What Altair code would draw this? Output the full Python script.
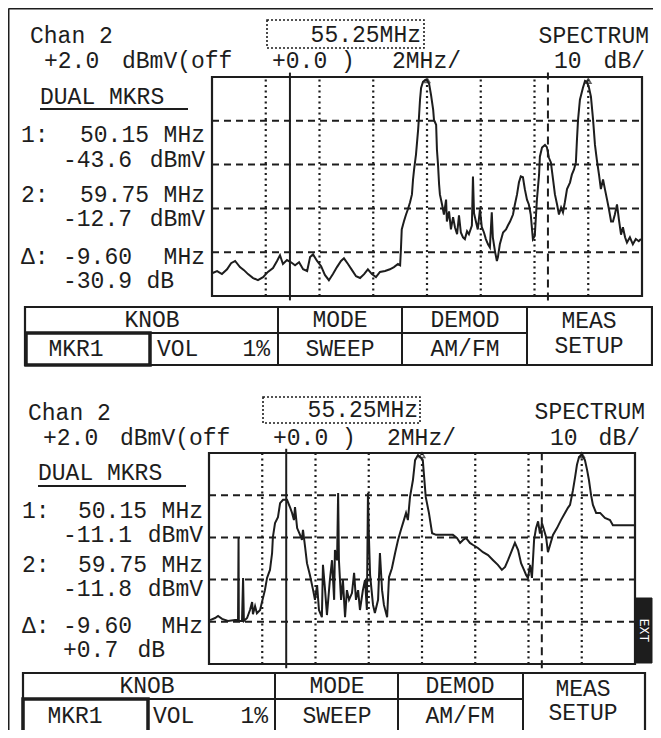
import altair as alt
import pandas as pd

# ---------------- data read from the two analyser screens ----------------
# (frequency MHz, level dBmV)
top_trace = [
    (47.25, -42.8), (47.44, -42.3), (47.62, -43.0), (47.81, -41.9), (47.96, -40.5), (48.11, -40.0),
    (48.29, -41.4), (48.44, -42.1), (48.59, -43.0), (48.78, -43.9), (48.96, -44.4), (49.15, -43.7),
    (49.33, -42.5), (49.52, -41.6), (49.67, -40.0), (49.78, -38.7), (49.89, -40.7), (50.04, -39.8),
    (50.19, -40.3), (50.34, -41.0), (50.49, -40.3), (50.64, -41.9), (50.79, -42.3), (50.90, -39.1),
    (51.01, -38.5), (51.16, -40.0), (51.31, -41.2), (51.45, -43.2), (51.60, -44.4), (51.75, -43.0),
    (51.90, -41.4), (52.05, -40.0), (52.16, -39.4), (52.31, -40.7), (52.46, -42.1), (52.61, -43.5),
    (52.76, -43.9), (52.91, -43.0), (53.05, -41.9), (53.20, -43.0), (53.35, -43.7), (53.50, -42.5),
    (53.69, -42.3), (53.87, -41.9), (54.02, -41.4), (54.17, -40.7), (54.25, -41.0), (54.28, -37.3),
    (54.31, -32.8), (54.39, -31.0), (54.47, -29.4), (54.54, -28.2), (54.62, -26.6), (54.69, -24.8),
    (54.73, -21.4), (54.77, -19.1), (54.84, -15.7), (54.92, -10.0), (54.95, -7.3), (54.99, -3.2),
    (55.03, -0.5), (55.10, 0.9), (55.18, 1.3), (55.25, 1.3), (55.33, 0.4), (55.40, -2.1),
    (55.48, -5.5), (55.51, -7.8), (55.59, -8.9), (55.62, -14.6), (55.66, -18.0), (55.70, -22.5),
    (55.73, -24.8), (55.81, -27.1), (55.88, -29.4), (55.96, -26.0), (55.99, -31.0), (56.07, -28.7),
    (56.14, -32.8), (56.22, -30.0), (56.29, -32.3), (56.37, -33.9), (56.44, -29.6), (56.51, -33.5),
    (56.59, -34.6), (56.66, -35.0), (56.74, -33.2), (56.81, -33.9), (56.92, -31.9), (56.96, -20.7),
    (57.00, -29.1), (57.07, -31.0), (57.14, -32.8), (57.22, -28.2), (57.29, -32.3), (57.37, -33.5),
    (57.44, -35.0), (57.52, -36.2), (57.59, -36.9), (57.66, -28.9), (57.70, -34.6), (57.78, -37.8),
    (57.85, -40.0), (57.89, -39.1), (57.96, -36.2), (58.08, -33.5), (58.19, -32.8), (58.26, -31.9),
    (58.34, -31.0), (58.45, -29.4), (58.52, -27.1), (58.60, -24.8), (58.67, -22.1), (58.74, -20.7),
    (58.82, -20.9), (58.89, -23.6), (58.97, -26.0), (59.04, -27.1), (59.11, -29.4), (59.19, -35.0),
    (59.26, -34.3), (59.34, -26.0), (59.42, -20.3), (59.45, -16.2), (59.53, -14.1), (59.64, -13.5),
    (59.71, -14.0), (59.79, -16.5), (59.86, -17.5), (59.94, -21.4), (60.01, -24.8), (60.09, -27.1),
    (60.16, -29.4), (60.24, -27.8), (60.31, -28.9), (60.38, -26.6), (60.46, -23.6), (60.57, -22.1),
    (60.64, -20.3), (60.72, -19.1), (60.79, -17.5), (60.83, -12.3), (60.87, -7.8), (60.94, -3.2),
    (61.05, -0.5), (61.13, 1.1), (61.20, 0.9), (61.28, -0.5), (61.35, -2.5), (61.43, -7.8),
    (61.50, -13.5), (61.57, -16.9), (61.65, -20.3), (61.72, -23.6), (61.80, -21.4), (61.87, -23.6),
    (61.95, -26.0), (62.02, -28.2), (62.10, -31.0), (62.17, -31.0), (62.24, -29.4), (62.32, -27.1),
    (62.39, -30.5), (62.47, -34.0), (62.54, -32.3), (62.62, -34.6), (62.69, -35.8), (62.80, -34.6),
    (62.91, -36.2), (63.02, -35.0), (63.13, -35.5), (63.21, -35.0),
]

bottom_trace = [
    (47.29, -37.6), (47.48, -37.1), (47.59, -36.6), (47.74, -37.3), (47.96, -37.8), (48.23, -37.6),
    (48.34, -37.6), (48.36, -17.9), (48.37, -37.8), (48.49, -37.8), (48.53, -27.6), (48.56, -37.8),
    (48.68, -37.1), (48.79, -35.2), (48.87, -33.3), (48.90, -36.2), (48.98, -34.3), (49.05, -36.0),
    (49.17, -35.2), (49.24, -33.3), (49.35, -30.5), (49.43, -27.6), (49.54, -25.7), (49.62, -21.7),
    (49.65, -17.9), (49.73, -14.6), (49.84, -13.2), (49.92, -9.9), (50.03, -9.1), (50.18, -9.1),
    (50.29, -10.8), (50.37, -12.2), (50.44, -13.9), (50.48, -10.8), (50.56, -15.8), (50.67, -17.4),
    (50.74, -18.6), (50.78, -16.2), (50.86, -20.3), (50.93, -24.1), (51.04, -26.9), (51.16, -30.5),
    (51.23, -32.8), (51.31, -29.3), (51.38, -35.2), (51.49, -36.9), (51.53, -24.5), (51.61, -30.5),
    (51.68, -36.4), (51.79, -28.1), (51.87, -23.4), (51.95, -32.8), (51.98, -21.0), (52.06, -23.4),
    (52.10, -7.5), (52.13, -23.4), (52.21, -32.8), (52.28, -28.1), (52.36, -36.9), (52.43, -30.5),
    (52.51, -32.8), (52.62, -31.2), (52.70, -26.4), (52.77, -32.8), (52.85, -30.5), (52.92, -35.2),
    (53.03, -30.5), (53.11, -28.1), (53.18, -35.2), (53.22, -7.5), (53.26, -18.6), (53.30, -26.9),
    (53.41, -34.0), (53.48, -35.9), (53.60, -32.8), (53.67, -21.7), (53.75, -30.5), (53.82, -34.0),
    (53.94, -36.9), (54.01, -27.4), (54.12, -25.3), (54.24, -21.7), (54.35, -18.6), (54.46, -16.2),
    (54.57, -13.9), (54.65, -12.2), (54.72, -13.9), (54.80, -8.4), (54.91, -4.4), (54.99, 0.3),
    (55.10, 1.5), (55.22, 0.8), (55.28, 0.3), (55.39, -8.4), (55.51, -12.2), (55.63, -17.0),
    (55.78, -17.4), (56.11, -17.4), (56.41, -17.4), (56.56, -18.1), (56.68, -19.3), (56.79, -18.6),
    (56.90, -18.1), (57.05, -19.3), (57.17, -19.8), (57.35, -20.5), (57.54, -21.5), (57.73, -22.2),
    (57.92, -23.4), (58.10, -24.5), (58.25, -25.7), (58.37, -25.0), (58.48, -23.4), (58.63, -21.0),
    (58.74, -19.3), (58.86, -21.0), (58.97, -24.1), (59.08, -25.7), (59.16, -26.9), (59.23, -27.6),
    (59.31, -24.5), (59.38, -27.6), (59.46, -18.6), (59.53, -15.9), (59.61, -14.2), (59.68, -17.1),
    (59.76, -14.7), (59.83, -16.2), (59.91, -17.9), (59.98, -21.5), (60.06, -19.8), (60.17, -17.4),
    (60.32, -15.8), (60.47, -13.9), (60.62, -12.2), (60.73, -11.0), (60.81, -10.3), (60.92, -6.8),
    (61.00, -3.7), (61.07, -0.8), (61.15, 1.1), (61.26, 1.5), (61.37, 0.3), (61.45, -2.0),
    (61.52, -4.4), (61.60, -8.0), (61.67, -10.3), (61.79, -12.2), (61.94, -12.2), (62.12, -13.4),
    (62.31, -13.9), (62.42, -15.1), (62.69, -15.1), (63.25, -15.1),
]

span_mhz = [47.25, 63.25]          # centre 55.25 MHz, 2 MHz/div, 8 div
level_dbmv = [-48.0, 2.0]          # ref +2.0 dBmV, 10 dB/div, 5 div
grid_mhz = [49.25, 51.25, 53.25, 55.25, 57.25, 59.25, 61.25]
grid_dbmv = [-8, -18, -28, -38]
marker_mhz = [50.15, 59.75]
peak_mhz = [55.25, 61.25]
top_peak_dbmv = [1.3, 1.1]
bottom_peak_dbmv = [1.5, 1.5]

# screen texts
channel_label = "Chan 2"
centre_label = "55.25MHz"
mode_label = "SPECTRUM"
status_words = ["+2.0", "dBmV(off", "+0.0 )", "2MHz/", "10", "dB/"]
markers_title = "DUAL MKRS"
marker_tags = ["1:", "2:", "Δ:"]
top_values = ["50.15", "-43.6", "59.75", "-12.7", "-9.60", "-30.9"]
bottom_values = ["50.15", "-11.1", "59.75", "-11.8", "-9.60", "+0.7"]
value_units = ["MHz", "dBmV", "MHz", "dBmV", "MHz", "dB"]
key_heads = ["KNOB", "MODE", "DEMOD"]
key_vals = ["MKR1", "SWEEP", "AM/FM"]
vol_label = ["VOL", "1%"]
meas_label = ["MEAS", "SETUP"]

# ---------------- layout (page pixels) ----------------
OFF = 8
INK = "#1d1d1d"
FONT = "Liberation Mono"
FS = 23

LAYOUT_TOP = dict(
    frame=(212, 642, 77, 296),
    chan=(30, 36), centre=(421, 35), cbox=(267, 424, 20, 48), mode=(649, 36),
    status_y=61, status_x=[44, 122, 272, 392, 554], status_right=645,
    title=(40, 97), uline=(40, 188, 109),
    tag_x=21, val_x=[80, 63, 80, 63, 63, 63], unit_right=[205, 205, 205, 205, 205, 174],
    rows_y=[135, 160, 195, 219, 257, 281],
    table=(25, 652, 307, 365, 333), dividers=[278, 402, 527], mkr_box=(26, 150),
    head_y=320, val_y=349, head_cx=[152, 340, 465], val_cx=[76, 340, 465],
    vol_x=(157, 270), meas_cx=589, meas_y=(321, 346), ext=None,
)
LAYOUT_BOTTOM = dict(
    frame=(209, 635, 453, 664),
    chan=(28, 413), centre=(418, 410), cbox=(263, 420, 397, 423), mode=(645, 412),
    status_y=438, status_x=[43, 120, 273, 387, 550], status_right=640,
    title=(38, 473), uline=(38, 186, 486),
    tag_x=22, val_x=[78, 63, 78, 63, 63, 63], unit_right=[203, 203, 203, 203, 203, 165],
    rows_y=[511, 535, 565, 589, 626, 650],
    table=(23, 645, 673, 733, 699), dividers=[275, 398, 523], mkr_box=(23, 148),
    head_y=686, val_y=716, head_cx=[147, 337, 460], val_cx=[75, 337, 460],
    vol_x=(153, 268), meas_cx=583, meas_y=(689, 713), ext=(636, 652, 598, 663),
)


def px(v):
    return v - OFF


def text_layer(rows, align, size=FS, color=INK, angle=0):
    df = pd.DataFrame(rows, columns=["t", "x", "y"])
    df["x"] = df["x"].map(px)
    df["y"] = df["y"].map(px)
    return alt.Chart(df).mark_text(
        align=align, baseline="middle", font=FONT, fontSize=size, color=color, angle=angle
    ).encode(
        x=alt.X("x:Q", scale=None, axis=None),
        y=alt.Y("y:Q", scale=None, axis=None),
        text="t:N",
    )


def seg_layer(rows, width=2.0, dash=None):
    df = pd.DataFrame(rows, columns=["x", "y", "x2", "y2"]).map(px)
    kw = dict(color=INK, strokeWidth=width)
    if dash:
        kw["strokeDash"] = dash
    return alt.Chart(df).mark_rule(**kw).encode(
        x=alt.X("x:Q", scale=None, axis=None), y=alt.Y("y:Q", scale=None, axis=None),
        x2="x2:Q", y2="y2:Q",
    )


def rect_layer(rows, width=2.0, dash=None, fill="transparent"):
    df = pd.DataFrame(rows, columns=["x", "x2", "y", "y2"]).map(px)
    kw = dict(stroke=INK, strokeWidth=width, fill=fill)
    if dash:
        kw["strokeDash"] = dash
    return alt.Chart(df).mark_rect(**kw).encode(
        x=alt.X("x:Q", scale=None, axis=None), x2="x2:Q",
        y=alt.Y("y:Q", scale=None, axis=None), y2="y2:Q",
    )


def panel(L, trace, peak_levels, values):
    x0, x1, y0, y1 = L["frame"]
    xs = alt.Scale(domain=span_mhz, range=[px(x0), px(x1)], nice=False, zero=False)
    ys = alt.Scale(domain=level_dbmv, range=[px(y1), px(y0)], nice=False, zero=False)

    def X(f):
        return alt.X(f"{f}:Q", scale=xs, axis=None)

    def Y(f):
        return alt.Y(f"{f}:Q", scale=ys, axis=None)

    layers = []
    gv = pd.DataFrame({"f": grid_mhz, "lo": level_dbmv[0], "hi": level_dbmv[1]})
    layers.append(alt.Chart(gv).mark_rule(color=INK, strokeWidth=2.2, strokeDash=[2, 3.5]).encode(
        x=X("f"), y=Y("lo"), y2="hi"))
    gh = pd.DataFrame({"l": grid_dbmv, "f0": span_mhz[0], "f1": span_mhz[1]})
    layers.append(alt.Chart(gh).mark_rule(color=INK, strokeWidth=2.0, strokeDash=[7, 5]).encode(
        y=Y("l"), x=X("f0"), x2="f1"))
    m1 = pd.DataFrame({"f": [marker_mhz[0]], "lo": [level_dbmv[0] - 1], "hi": [level_dbmv[1] + 1]})
    layers.append(alt.Chart(m1).mark_rule(color=INK, strokeWidth=2).encode(x=X("f"), y=Y("lo"), y2="hi"))
    m2 = pd.DataFrame({"f": [marker_mhz[1]], "lo": [level_dbmv[0] - 1], "hi": [level_dbmv[1] + 1]})
    layers.append(alt.Chart(m2).mark_rule(color=INK, strokeWidth=2, strokeDash=[8, 5]).encode(
        x=X("f"), y=Y("lo"), y2="hi"))
    fr = pd.DataFrame({"f0": [span_mhz[0]], "f1": [span_mhz[1]], "l0": [level_dbmv[0]], "l1": [level_dbmv[1]]})
    layers.append(alt.Chart(fr).mark_rect(fill="transparent", stroke=INK, strokeWidth=2.2).encode(
        x=X("f0"), x2="f1", y=Y("l0"), y2="l1"))
    tr = pd.DataFrame(trace, columns=["f", "l"])
    layers.append(alt.Chart(tr).mark_line(color=INK, strokeWidth=2.0).encode(x=X("f"), y=Y("l")))
    pk = pd.DataFrame({"f": peak_mhz, "l": peak_levels})
    layers.append(alt.Chart(pk).mark_point(shape="triangle-up", filled=False, size=30, color=INK,
                                           strokeWidth=1.5).encode(x=X("f"), y=Y("l")))

    # header
    left = [(channel_label, *L["chan"])]
    right = [(centre_label, *L["centre"]), (mode_label, *L["mode"])]
    for w, x in zip(status_words[:5], L["status_x"]):
        left.append((w, x, L["status_y"]))
    right.append((status_words[5], L["status_right"], L["status_y"]))
    # marker readouts
    left.append((markers_title, *L["title"]))
    tags_rows = [0, 2, 4]
    for tag, r in zip(marker_tags, tags_rows):
        left.append((tag, L["tag_x"], L["rows_y"][r]))
    for v, u, vx, ur, ry in zip(values, value_units, L["val_x"], L["unit_right"], L["rows_y"]):
        left.append((v, vx, ry))
        right.append((u, ur, ry))
    # soft keys
    center = []
    for h, cx in zip(key_heads, L["head_cx"]):
        center.append((h, cx, L["head_y"]))
    for v, cx in zip(key_vals, L["val_cx"]):
        center.append((v, cx, L["val_y"]))
    left.append((vol_label[0], L["vol_x"][0], L["val_y"]))
    right.append((vol_label[1], L["vol_x"][1], L["val_y"]))
    center.append((meas_label[0], L["meas_cx"], L["meas_y"][0]))
    center.append((meas_label[1], L["meas_cx"], L["meas_y"][1]))

    layers += [text_layer(left, "left"), text_layer(right, "right"), text_layer(center, "center")]

    # chrome
    tx0, tx1, ty0, ty1, tmid = L["table"]
    segs = [(d, ty0, d, ty1) for d in L["dividers"]]
    segs.append((tx0, tmid, L["dividers"][2], tmid))
    ux0, ux1, uy = L["uline"]
    segs.append((ux0, uy, ux1, uy))
    layers.append(seg_layer(segs, 2.0))
    layers.append(rect_layer([(tx0, tx1, ty0, ty1)], 2.2))
    mb0, mb1 = L["mkr_box"]
    layers.append(rect_layer([(mb0, mb1, tmid, ty1)], 3.5))
    layers.append(rect_layer([L["cbox"]], 1.6, dash=[2, 2]))
    if L["ext"]:
        e = L["ext"]
        layers.append(rect_layer([e], 1.0, fill=INK))
        layers.append(text_layer([("EXT", (e[0] + e[1]) / 2, (e[2] + e[3]) / 2)], "center",
                                 size=13, color="white", angle=90))
    return layers


layers = []
layers += panel(LAYOUT_TOP, top_trace, top_peak_dbmv, top_values)
layers += panel(LAYOUT_BOTTOM, bottom_trace, bottom_peak_dbmv, bottom_values)
# outer photo border (left and top edges)
layers.append(seg_layer([(8.5, 8.5, 8.5, 746), (8.5, 8.5, 669, 8.5)], 2.0))

chart = alt.layer(*layers).resolve_scale(x="independent", y="independent").properties(
    width=645, height=722, padding=0, autosize=alt.AutoSizeParams(type="none")
).configure(background="white").configure_view(stroke=None)

chart.save("out.html", embed_options={"renderer": "svg", "actions": False})
